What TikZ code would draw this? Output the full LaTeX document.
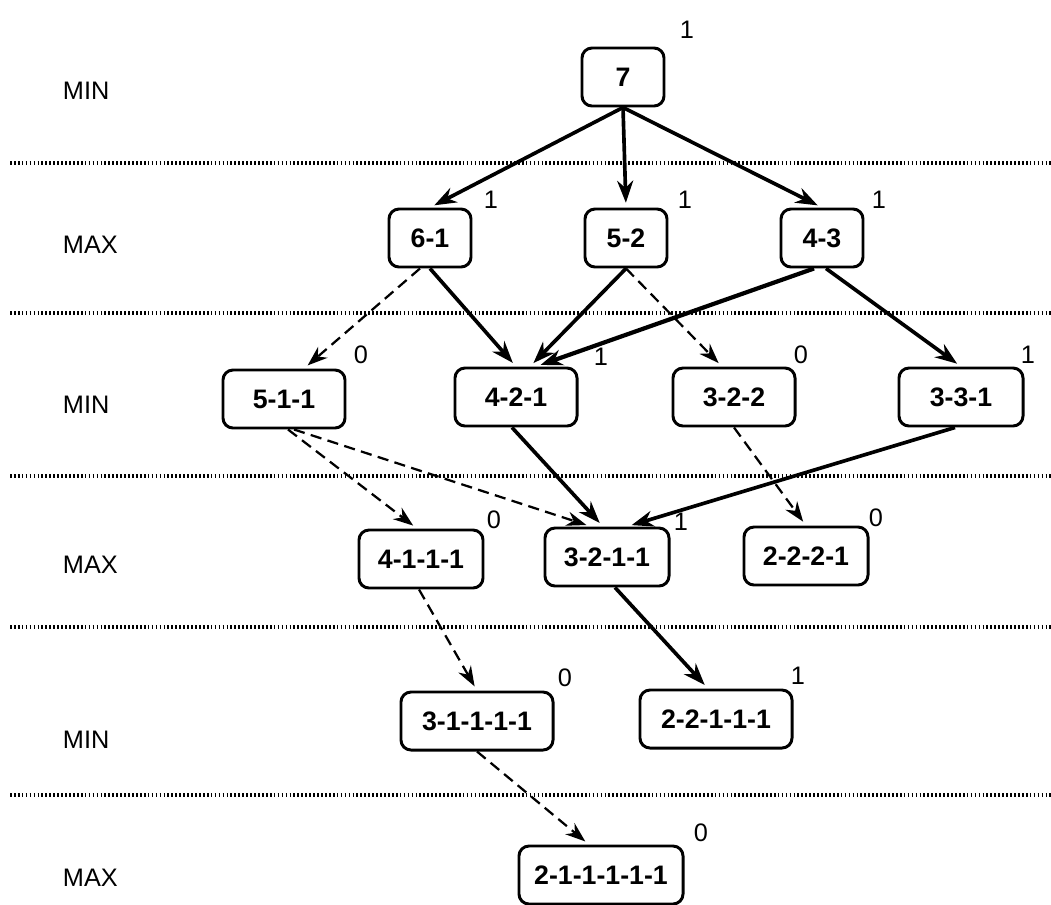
\documentclass[tikz,border=0pt]{standalone}
\usepackage{fontspec}
\setmainfont{Liberation Sans}
\usetikzlibrary{arrows.meta}
\tikzset{
  box/.style={draw, line width=2.1pt, rounded corners=0.25cm, minimum height=1.45cm,
    inner sep=2pt, font=\fontsize{19}{21}\selectfont\bfseries},
  lvl/.style={anchor=west, font=\fontsize{18}{20}\selectfont},
  val/.style={font=\fontsize{18}{20}\selectfont},
  sep/.style={line width=2.6pt, dash pattern=on 1.2pt off 1.6pt},
  solidarr/.style={line width=2.6pt, -{Stealth[length=0.55cm,width=0.4cm]}, shorten >=0.12cm},
  dasharr/.style={line width=1.6pt, dash pattern=on 0.28cm off 0.16cm, -{Stealth[length=0.5cm,width=0.36cm]}, shorten >=0.12cm},
}
\begin{document}
\begin{tikzpicture}[x=0.025cm, y=-0.025cm]
\useasboundingbox (0,0) rectangle (1051,904);
% separators
\foreach \yy in {163,313,476,627,795} \draw[sep] (10,\yy) -- (1051,\yy);
% level labels
\node[lvl] (l1) at (58,91) {MIN};
\node[lvl] (l2) at (58,245) {MAX};
\node[lvl] (l3) at (58,405) {MIN};
\node[lvl] (l4) at (58,565) {MAX};
\node[lvl] (l5) at (58,740) {MIN};
\node[lvl] (l6) at (58,878) {MAX};
% nodes
\node[box, minimum width=2.05cm] (n7) at (623,77) {7};
\node[box, minimum width=2.05cm] (n61) at (430,238) {6-1};
\node[box, minimum width=2.05cm] (n52) at (626,238) {5-2};
\node[box, minimum width=2.05cm] (n43) at (822,238) {4-3};
\node[box, minimum width=3.05cm] (n511) at (284,399) {5-1-1};
\node[box, minimum width=3.05cm] (n421) at (516,397) {4-2-1};
\node[box, minimum width=3.05cm] (n322) at (734,397) {3-2-2};
\node[box, minimum width=3.1cm] (n331) at (961,397) {3-3-1};
\node[box, minimum width=3.1cm] (n4111) at (421,559) {4-1-1-1};
\node[box, minimum width=3.1cm] (n3211) at (607,557) {3-2-1-1};
\node[box, minimum width=3.1cm] (n2221) at (806,556) {2-2-2-1};
\node[box, minimum width=3.8cm] (n31111) at (477,721) {3-1-1-1-1};
\node[box, minimum width=3.8cm] (n22111) at (716,719) {2-2-1-1-1};
\node[box, minimum width=4.1cm] (n211111) at (601,875) {2-1-1-1-1-1};
% values
\node[val] (v7) at (687,30) {1};
\node[val] (v61) at (491,200) {1};
\node[val] (v52) at (685,200) {1};
\node[val] (v43) at (879,200) {1};
\node[val] (v511) at (361,355) {0};
\node[val] (v421) at (601,357) {1};
\node[val] (v322) at (801,355) {0};
\node[val] (v331) at (1028,355) {1};
\node[val] (v4111) at (494,520) {0};
\node[val] (v3211) at (681,522) {1};
\node[val] (v2221) at (876,518) {0};
\node[val] (v31111) at (565,678) {0};
\node[val] (v22111) at (798,676) {1};
\node[val] (v211111) at (701,833) {0};
% edges
\draw[solidarr] (n7.south) -- (n61.north);
\draw[solidarr] (n7.south) -- (n52.north);
\draw[solidarr] (n7.south) -- (n43.north);
\draw[dasharr] ([xshift=-0.25cm]n61.south) -- ([xshift=0.5cm]n511.north);
\draw[solidarr] (n61.south) -- (n421.north);
\draw[solidarr] (n52.south) -- ([xshift=0.35cm]n421.north);
\draw[dasharr] (n52.south) -- ([xshift=-0.3cm]n322.north);
\draw[solidarr, line width=3pt] ([xshift=-0.2cm]n43.south) -- ([xshift=0.5cm]n421.north);
\draw[solidarr] ([xshift=0.1cm]n43.south) -- (n331.north);
\draw[dasharr] ([xshift=0.1cm]n511.south) -- ([xshift=-0.1cm]n4111.north);
\draw[dasharr] ([xshift=0.25cm]n511.south) -- ([xshift=-0.4cm]n3211.north);
\draw[solidarr] ([xshift=-0.1cm]n421.south) -- ([xshift=-0.1cm]n3211.north);
\draw[solidarr] ([xshift=-0.15cm]n331.south) -- ([xshift=0.5cm]n3211.north);
\draw[dasharr] (n322.south) -- (n2221.north);
\draw[dasharr] ([xshift=-0.05cm]n4111.south) -- (n31111.north);
\draw[solidarr] ([xshift=0.2cm]n3211.south) -- ([xshift=-0.2cm]n22111.north);
\draw[dasharr] (n31111.south) -- ([xshift=-0.3cm]n211111.north);
\end{tikzpicture}
\end{document}
